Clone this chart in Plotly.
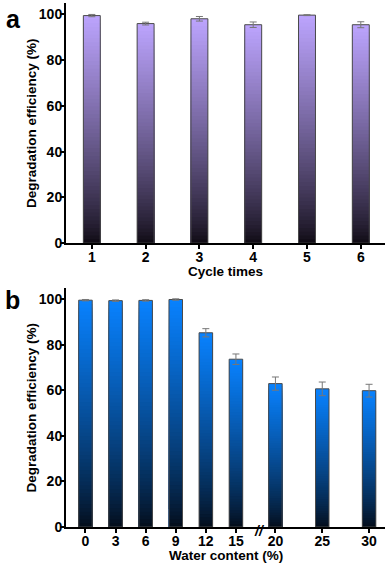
import plotly.graph_objects as go

# ---- data ----
cycles = [1, 2, 3, 4, 5, 6]
cycle_eff = [99.5, 96.0, 98.1, 95.5, 99.7, 95.5]
cycle_err = [0.5, 0.6, 1.0, 1.2, 0.2, 1.3]

water_low = [0, 3, 6, 9, 12, 15]
water_low_eff = [99.5, 99.3, 99.4, 99.8, 85.2, 73.6]
water_low_err = [0.3, 0.3, 0.3, 0.3, 1.8, 2.3]

water_high = [20, 25, 30]
water_high_eff = [62.9, 60.6, 59.8]
water_high_err = [2.9, 3.0, 2.8]

FONT = "Liberation Sans, Arial, sans-serif"
N = 60


def grad(top, bottom, t, g=0.8):
    f = t ** g
    return "rgb(%d,%d,%d)" % tuple(round(b + (a - b) * f) for a, b in zip(top, bottom))


fig = go.Figure()


def add_bars(x, vals, errs, xa, ya, width, top, bottom):
    for k in range(N, 0, -1):
        fig.add_trace(go.Bar(
            x=x, y=[v * k / N for v in vals], width=width,
            marker=dict(color=grad(top, bottom, (k - 0.5) / N), line=dict(width=0)),
            xaxis=xa, yaxis=ya, showlegend=False, hoverinfo="skip"))
    fig.add_trace(go.Bar(
        x=x, y=vals, width=width,
        marker=dict(color="rgba(0,0,0,0)", line=dict(color="#4a4a4a", width=1)),
        error_y=dict(type="data", array=errs, color="#777777", thickness=1, width=3.5),
        xaxis=xa, yaxis=ya, showlegend=False))


PURPLE_TOP = (188, 164, 254)
PURPLE_BOT = (14, 10, 18)
BLUE_TOP = (8, 130, 255)
BLUE_BOT = (4, 12, 24)

add_bars(cycles, cycle_eff, cycle_err, "x", "y", 0.315, PURPLE_TOP, PURPLE_BOT)
add_bars(water_low, water_low_eff, water_low_err, "x2", "y2", 1.35, BLUE_TOP, BLUE_BOT)
add_bars(water_high, water_high_eff, water_high_err, "x3", "y2", 1.44, BLUE_TOP, BLUE_BOT)

axis_common = dict(showline=True, linecolor="black", linewidth=2, ticks="outside",
                   ticklen=4, tickwidth=2, tickcolor="black", showgrid=False, zeroline=False,
                   tickfont=dict(family=FONT, size=14, color="black", weight="bold"))
xax = dict(ticklabelstandoff=-4, **axis_common)
yax = dict(ticklabelstandoff=-5, **axis_common)

brk = 0.6066
fig.update_layout(
    barmode="overlay",
    width=392, height=565,
    margin=dict(l=66, r=7, t=2.5, b=37.7),
    plot_bgcolor="white", paper_bgcolor="white",
    xaxis=dict(domain=[0, 1], range=[0.52, 6.45], tickvals=cycles, anchor="y", **xax),
    yaxis=dict(domain=[0.5417, 1], range=[0, 105], tickvals=[0, 20, 40, 60, 80, 100], anchor="x", **yax),
    xaxis2=dict(domain=[0, brk], range=[-1.94, 17.35], tickvals=water_low, anchor="y2", **xax),
    xaxis3=dict(domain=[brk, 1], range=[18.3, 31.7], tickvals=water_high, anchor="y2", **xax),
    yaxis2=dict(domain=[0, 0.4568], range=[0, 105], tickvals=[0, 20, 40, 60, 80, 100], anchor="x2", **yax),
)

ann = []
ann.append(dict(text="a", x=-0.166, y=0.970, font=dict(size=25)))
ann.append(dict(text="b", x=-0.168, y=0.433, font=dict(size=25)))
ann.append(dict(text="Cycle times", x=0.5, y=0.487, font=dict(size=13.5)))
ann.append(dict(text="Water content (%)", x=0.5, y=-0.054, font=dict(size=13.5)))
ann.append(dict(text="Degradation efficiency (%)", x=-0.1066, y=0.771, textangle=-90, font=dict(size=13.5)))
ann.append(dict(text="Degradation efficiency (%)", x=-0.1066, y=0.228, textangle=-90, font=dict(size=13.5)))
ann.append(dict(text="//", x=brk, y=-0.007, font=dict(size=14, style="italic")))
for a in ann:
    a.update(xref="paper", yref="paper", showarrow=False, xanchor="center", yanchor="middle")
    a["font"].update(family=FONT, color="black", weight="bold")
    fig.add_annotation(**a)

fig.write_html("out.html", config={"displayModeBar": False},
               post_script="document.body.style.margin='0';document.body.style.padding='0';")
